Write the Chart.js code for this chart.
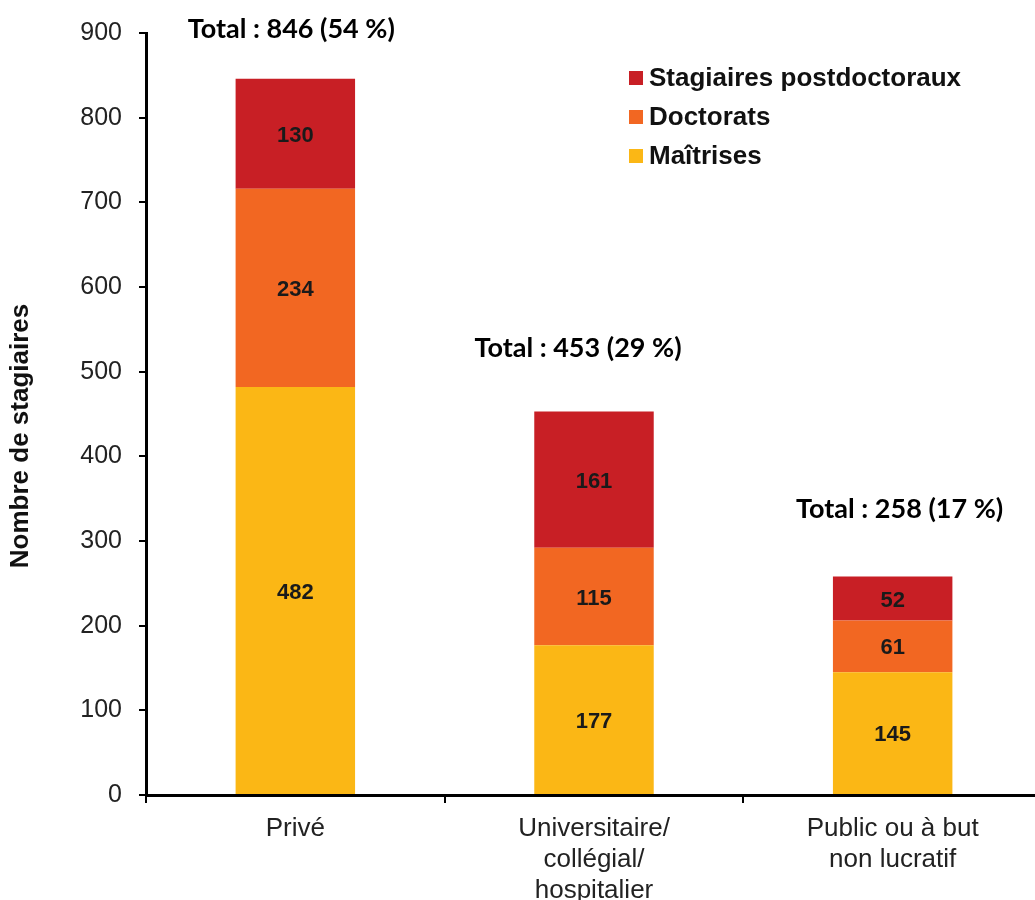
<!DOCTYPE html>
<html><head><meta charset="utf-8">
<script src="https://cdn.jsdelivr.net/npm/chart.js@4.4.0/dist/chart.umd.min.js"></script>
<style>
html,body{margin:0;padding:0;background:#fff;overflow:hidden;width:1035px;height:900px}
#wrap{position:absolute;left:0;top:0;width:1042px;height:900px}
</style></head>
<body><div id="wrap"><canvas id="c" width="1042" height="900"></canvas></div>
<script>
const categories = [['Privé'], ['Universitaire/', 'collégial/', 'hospitalier'], ['Public ou à but', 'non lucratif']];
const seriesNames = ['Maîtrises', 'Doctorats', 'Stagiaires postdoctoraux'];
const maitrises = [482, 177, 145];
const doctorats = [234, 115, 61];
const postdocs = [130, 161, 52];
const totals = [846, 453, 258];
const totalShares = [54, 29, 17];
const yTickMax = 900;
const yTickStep = 100;
const yTitle = 'Nombre de stagiaires';

const colors = ['#FBB715', '#F26722', '#C81F25'];
const totalOffsets = [[-4, 49], [-16, 63], [7, 67]]; // pixel offsets of total annotations
const FONT = 'Arial, "Liberation Sans", sans-serif';

const valueLabels = {
  id: 'valueLabels',
  afterDatasetsDraw(chart) {
    const ctx = chart.ctx;
    ctx.save();
    ctx.font = 'bold 22px ' + FONT;
    ctx.fillStyle = '#1a1a1a';
    ctx.textAlign = 'center';
    ctx.textBaseline = 'middle';
    chart.data.datasets.forEach((ds, di) => {
      const meta = chart.getDatasetMeta(di);
      meta.data.forEach((el, i) => {
        ctx.fillText(String(ds.data[i]), el.x, (el.y + el.base) / 2 + 2);
      });
    });
    // totals
    ctx.font = 'bold 27px Lato, "Open Sans", sans-serif';
    ctx.fillStyle = '#000';
    const meta0 = chart.getDatasetMeta(0);
    const ys = chart.scales.y;
    totals.forEach((t, i) => {
      const x = meta0.data[i].x + totalOffsets[i][0];
      const y = ys.getPixelForValue(t) - totalOffsets[i][1];
      ctx.fillText('Total : ' + t + ' (' + totalShares[i] + ' %)', x, y);
    });
    // y axis title
    ctx.font = 'bold 26px ' + FONT;
    ctx.fillStyle = '#111';
    ctx.translate(21, 436);
    ctx.rotate(-Math.PI / 2);
    ctx.fillText(yTitle, 0, 0);
    ctx.restore();
  }
};

const customLegend = {
  id: 'customLegend',
  afterDraw(chart) {
    const ctx = chart.ctx;
    ctx.save();
    ctx.font = 'bold 26px ' + FONT;
    ctx.textBaseline = 'middle';
    ctx.textAlign = 'left';
    const dss = chart.data.datasets.slice().reverse();
    const x0 = 629, y0 = 78, dy = 39;
    dss.forEach((ds, k) => {
      const y = y0 + k * dy;
      ctx.fillStyle = ds.backgroundColor;
      ctx.fillRect(x0, y - 7, 14, 14);
      ctx.fillStyle = '#111';
      ctx.fillText(ds.label, x0 + 20, y + 1);
    });
    ctx.restore();
  }
};

new Chart(document.getElementById('c'), {
  type: 'bar',
  data: {
    labels: categories,
    datasets: [
      { label: seriesNames[0], data: maitrises, backgroundColor: colors[0] },
      { label: seriesNames[1], data: doctorats, backgroundColor: colors[1] },
      { label: seriesNames[2], data: postdocs, backgroundColor: colors[2] }
    ]
  },
  options: {
    responsive: false,
    animation: false,
    devicePixelRatio: 1,
    barPercentage: 0.4,
    categoryPercentage: 1.0,
    layout: { padding: { left: 0, right: 0, top: 33, bottom: 0 } },
    plugins: { legend: { display: false }, tooltip: { enabled: false } },
    scales: {
      x: {
        stacked: true,
        grid: { offset: true, drawOnChartArea: false, drawTicks: true, tickLength: 8, color: '#000', lineWidth: 2 },
        border: { color: '#000', width: 3 },
        ticks: { font: { family: FONT, size: 26 }, color: '#222', padding: 10, maxRotation: 0, autoSkip: false },
        afterFit(s) { s.height = 105; }
      },
      y: {
        stacked: true,
        min: 0,
        max: yTickMax,
        ticks: { stepSize: yTickStep, font: { family: FONT, size: 25 }, color: '#222', padding: 17 },
        grid: { drawOnChartArea: false, drawTicks: true, tickLength: 7, color: '#000', lineWidth: 2 },
        border: { color: '#000', width: 3 },
        afterFit(s) { s.width = 146; }
      }
    }
  },
  plugins: [valueLabels, customLegend]
});
</script>
</body></html>
